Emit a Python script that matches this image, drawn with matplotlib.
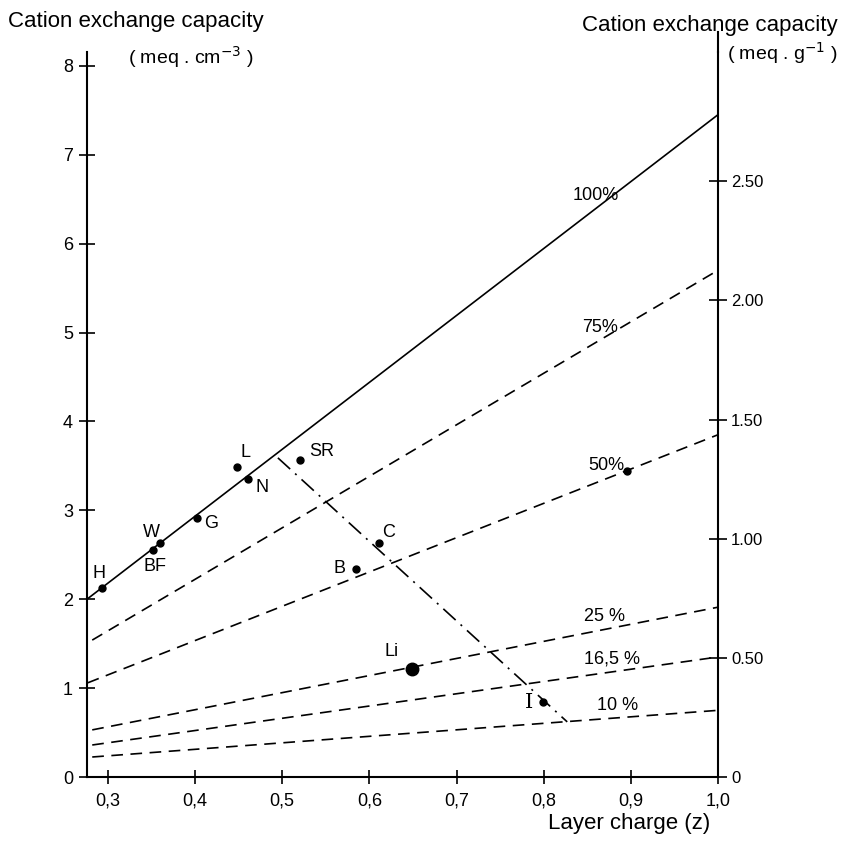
import numpy as np
import matplotlib
matplotlib.use("Agg")
import matplotlib.pyplot as plt

plt.rcParams['font.family'] = ['Liberation Sans', 'DejaVu Sans']

# layer charge lines (percent of interlayer exchange sites)
line_labels = ['100%', '75%', '50%', '25 %', '16,5 %', '10 %']
line_z0 = [0.276, 0.282, 0.277, 0.282, 0.282, 0.282]
line_z1 = [1.0, 1.0, 1.0, 1.0, 1.0, 1.0]
line_cec0 = [2.00, 1.54, 1.06, 0.53, 0.36, 0.225]
line_cec1 = [7.45, 5.70, 3.85, 1.91, 1.35, 0.75]

# clay samples
pt_names = ['H', 'BF', 'W', 'G', 'L', 'N', 'SR', 'C', 'B', 'Li', 'I', '']
pt_z = [0.293, 0.352, 0.360, 0.402, 0.448, 0.461, 0.520, 0.611, 0.585, 0.649, 0.799, 0.896]
pt_cec = [2.13, 2.55, 2.63, 2.91, 3.49, 3.35, 3.57, 2.63, 2.34, 1.21, 0.84, 3.44]

# dash-dot trend
dd_z = [0.495, 0.827]
dd_cec = [3.59, 0.62]

x_ticks = [0.3, 0.4, 0.5, 0.6, 0.7, 0.8, 0.9, 1.0]
x_ticklabels = ['0,3', '0,4', '0,5', '0,6', '0,7', '0,8', '0,9', '1,0']
y_ticks = [0, 1, 2, 3, 4, 5, 6, 7, 8]
y2_ticks = [0, 0.5, 1.0, 1.5, 2.0, 2.5]
y2_ticklabels = ['0', '0.50', '1.00', '1.50', '2.00', '2.50']
density = 2.68  # meq/cm3 per meq/g

# layout (label offsets in points)
pt_offsets = {'H': (-2, 10), 'BF': (1, -12), 'W': (-6, 8), 'G': (10, -4),
              'L': (6, 10), 'N': (10, -6), 'SR': (16, 6), 'C': (7, 8),
              'B': (-12, 0), 'Li': (-15, 13), 'I': (-10, 0)}
perc_label_z = [0.86, 0.865, 0.872, 0.87, 0.878, 0.885]

fig = plt.figure(figsize=(8.67, 8.44), dpi=100)
ax = fig.add_axes([87/867, 1-777/844, 631/867, 725/844])
ax.set_xlim(0.276, 1.0)
ax.set_ylim(0, 725/88.9)

for sp in ['top', 'right']:
    ax.spines[sp].set_visible(False)
for sp in ['left', 'bottom']:
    ax.spines[sp].set_linewidth(1.5)

for i, lab in enumerate(line_labels):
    if i == 0:
        ax.plot([line_z0[i], line_z1[i]], [line_cec0[i], line_cec1[i]],
                color='k', lw=1.2, solid_capstyle='butt')
    else:
        ax.plot([line_z0[i], line_z1[i]], [line_cec0[i], line_cec1[i]],
                color='k', lw=1.2, dashes=(7, 4.5))
    zl = perc_label_z[i]
    yl = np.interp(zl, [line_z0[i], line_z1[i]], [line_cec0[i], line_cec1[i]])
    ax.annotate(lab, (zl, yl), xytext=(0, 3), textcoords='offset points',
                ha='center', va='bottom', fontsize=13)

ax.plot(dd_z, dd_cec, color='k', lw=1.2, dashes=(10, 4, 1.2, 4))

for name, z, c in zip(pt_names, pt_z, pt_cec):
    ms = 9 if name == 'Li' else 5
    ax.plot(z, c, 'o', color='k', ms=ms)
    if name == '':
        continue
    dx, dy = pt_offsets[name]
    fam = ['DejaVu Serif'] if name == 'I' else None
    ax.annotate(name, (z, c), xytext=(dx, dy), textcoords='offset points',
                ha='center', va='center', fontsize=15 if name == 'I' else 13,
                family=fam)

ax.set_xticks(x_ticks)
ax.set_xticklabels(x_ticklabels)
ax.set_yticks(y_ticks)
ax.tick_params(direction='inout', length=12, width=1.2, labelsize=13, pad=4)
ax.tick_params(axis='x', length=10, pad=6)

ax2 = ax.twinx()
ax2.set_ylim(0, 725/88.9/density)
for sp in ['top', 'left', 'bottom']:
    ax2.spines[sp].set_visible(False)
ax2.spines['right'].set_linewidth(1.5)
ax2.set_yticks(y2_ticks)
ax2.set_yticklabels(y2_ticklabels)
ax2.tick_params(direction='inout', length=13, width=1.2, labelsize=12, pad=3)
ax2.plot([1, 1], [1, 1 + 20/725], transform=ax2.transAxes, clip_on=False,
         color='k', lw=1.5)

fig.text(8/867, 1-22/844, 'Cation exchange capacity', fontsize=16, va='center', ha='left')
fig.text(128/867, 1-57/844, r'( meq . cm$^{-3}$ )', fontsize=14, va='center', ha='left')
fig.text(838/867, 1-26/844, 'Cation exchange capacity', fontsize=16, va='center', ha='right')
fig.text(838/867, 1-53/844, r'( meq . g$^{-1}$ )', fontsize=14, va='center', ha='right')
fig.text(710/867, 1-824/844, 'Layer charge (z)', fontsize=16, va='center', ha='right')

fig.savefig('out.png', dpi=100)
